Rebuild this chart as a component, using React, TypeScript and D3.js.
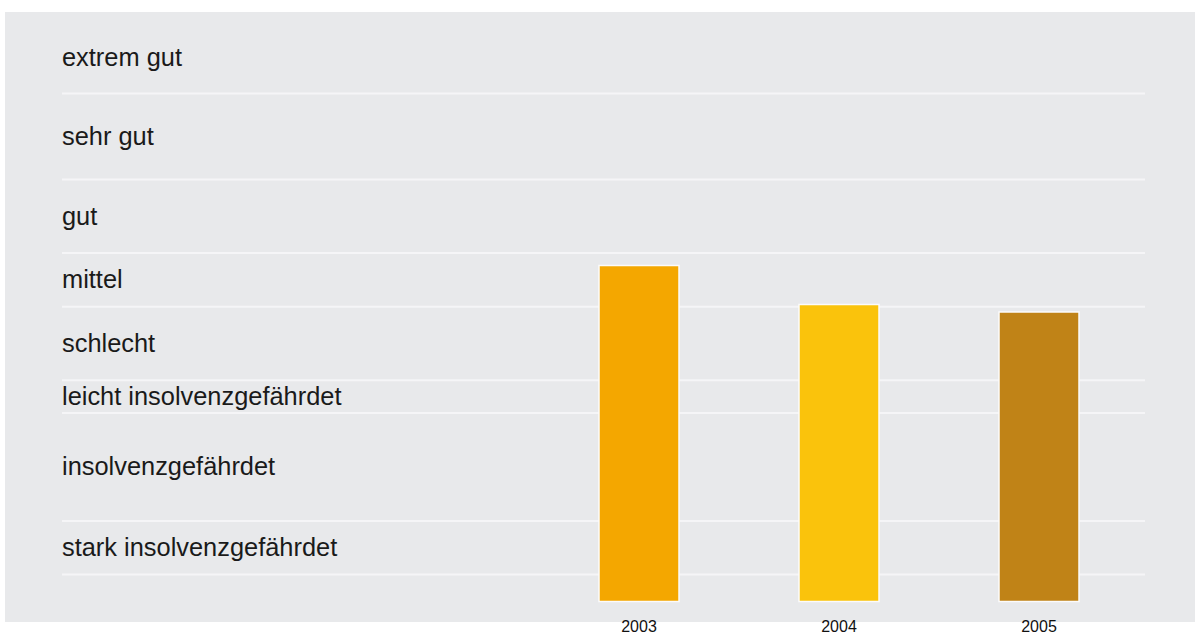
import React from "react";
import * as d3 from "d3";

const years = ["2003", "2004", "2005"];
const scores = [3.36, 2.97, 2.895];
const barColors = ["#f4a700", "#fac30c", "#c08317"];

// rating bands, bottom to top
const bandLabels = [
  "stark insolvenzgefährdet",
  "insolvenzgefährdet",
  "leicht insolvenzgefährdet",
  "schlecht",
  "mittel",
  "gut",
  "sehr gut",
  "extrem gut",
];
const bandEdges = [0.27, 0.805, 1.885, 2.213, 2.947, 3.485, 4.22, 5.08, 5.8];

const W = 1195;
const H = 635;

export default function App() {
  const y = d3.scaleLinear().domain([0, 5.8]).range([601.5, 21.5]);
  const x = d3
    .scaleBand<string>()
    .domain(years)
    .range([539, 1139])
    .paddingInner(0.6)
    .paddingOuter(0.3);

  const gridVals = bandEdges.slice(0, -1);

  return (
    <svg
      width={W}
      height={H}
      style={{ position: "absolute", left: 0, top: 0, display: "block" }}
      fontFamily="'Liberation Sans', Arial, sans-serif"
    >
      <rect x={5} y={12} width={1190} height={610} fill="#e8e9eb" />
      {gridVals.map((v, i) => (
        <line
          key={i}
          x1={62}
          x2={1145}
          y1={y(v)}
          y2={y(v)}
          stroke="#f5f5f7"
          strokeWidth={2}
        />
      ))}
      {bandLabels.map((lab, i) => (
        <text
          key={lab}
          x={62}
          y={(y(bandEdges[i]) + y(bandEdges[i + 1])) / 2}
          dy="0.33em"
          fontSize={25.4}
          fill="#1a1a1a"
        >
          {lab}
        </text>
      ))}
      {years.map((yr, i) => (
        <rect
          key={yr}
          x={x(yr)}
          y={y(scores[i])}
          width={x.bandwidth()}
          height={y(0) - y(scores[i])}
          fill={barColors[i]}
          stroke="#fbfbfb"
          strokeWidth={1.5}
        />
      ))}
      {years.map((yr) => (
        <text
          key={"l" + yr}
          x={(x(yr) as number) + x.bandwidth() / 2}
          y={632}
          textAnchor="middle"
          fontSize={16}
          fill="#111"
        >
          {yr}
        </text>
      ))}
    </svg>
  );
}
